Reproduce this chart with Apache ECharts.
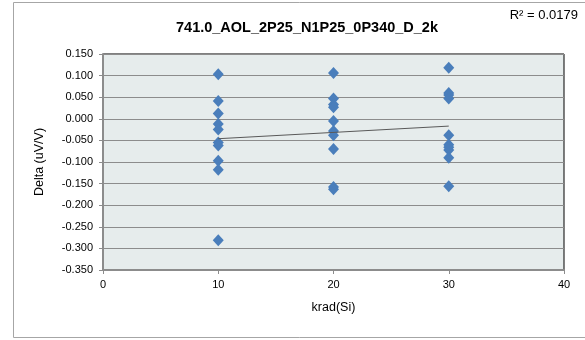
<!DOCTYPE html>
<html><head><meta charset="utf-8">
<script src="https://cdn.jsdelivr.net/npm/echarts@6/dist/echarts.min.js"></script>
<style>html,body{margin:0;padding:0;background:#fff}#c{width:585px;height:340px}</style>
</head><body><div id="c"></div>
<script>
const titleText = '741.0_AOL_2P25_N1P25_0P340_D_2k';
const r2Text = 'R\u00b2 = 0.0179';
const xName = 'krad(Si)';
const yName = 'Delta (uV/V)';
const doseLevels = [10, 20, 30];
const values10 = [0.103, 0.041, 0.012, -0.012, -0.025, -0.055, -0.062, -0.097, -0.118, -0.281];
const values20 = [0.106, 0.047, 0.033, 0.027, -0.005, -0.028, -0.038, -0.070, -0.158, -0.163];
const values30 = [0.118, 0.060, 0.055, 0.047, -0.038, -0.060, -0.066, -0.072, -0.090, -0.156];

const groups = [values10, values20, values30];
const pts = [];
groups.forEach((g, i) => g.forEach(v => pts.push([doseLevels[i], v])));

// linear regression trendline
const n = pts.length;
let sx = 0, sy = 0, sxx = 0, sxy = 0;
pts.forEach(([x, y]) => { sx += x; sy += y; sxx += x * x; sxy += x * y; });
const slope = (n * sxy - sx * sy) / (n * sxx - sx * sx);
const icpt = (sy - slope * sx) / n;
const xmin = Math.min(...doseLevels), xmax = Math.max(...doseLevels);
const trend = [[xmin, icpt + slope * xmin], [xmax, icpt + slope * xmax]];

const chart = echarts.init(document.getElementById('c'), null, {renderer: 'canvas'});
const font = 'Liberation Sans, Arial, sans-serif';
chart.setOption({
  animation: false,
  backgroundColor: '#fff',
  graphic: [
    {type: 'rect', shape: {x: 13.5, y: 2.5, width: 620, height: 335}, style: {fill: 'none', stroke: '#a6a6a6', lineWidth: 1}, z: -10}
  ],
  title: [
    {text: titleText, left: 302, top: 15, textAlign: 'center',
     textStyle: {fontFamily: font, fontSize: 14.5, fontWeight: 'bold', color: '#000'}},
    {text: r2Text, right: 2, top: 4,
     textStyle: {fontFamily: font, fontSize: 13, fontWeight: 'normal', color: '#000'}}
  ],
  grid: {left: 103, right: 21, top: 54, bottom: 70, show: true,
         backgroundColor: '#e6ecec', borderColor: '#000', borderWidth: 1},
  xAxis: {
    type: 'value', min: 0, max: 40, interval: 10,
    name: xName, nameLocation: 'middle', nameGap: 31,
    nameTextStyle: {fontFamily: font, fontSize: 12.5, color: '#000'},
    axisLine: {show: true, onZero: false, lineStyle: {color: '#8c8c8c', width: 2}},
    axisTick: {show: true, length: 4, lineStyle: {color: '#8c8c8c'}},
    axisLabel: {fontFamily: font, fontSize: 11, color: '#000', margin: 9},
    splitLine: {show: false}
  },
  yAxis: {
    type: 'value', min: -0.35, max: 0.15, interval: 0.05,
    name: yName, nameLocation: 'middle', nameGap: 57, nameRotate: 90,
    nameTextStyle: {fontFamily: font, fontSize: 12.5, color: '#000'},
    axisLine: {show: true, onZero: false, lineStyle: {color: '#8c8c8c', width: 2}},
    axisTick: {show: true, length: 4, lineStyle: {color: '#8c8c8c'}},
    axisLabel: {fontFamily: font, fontSize: 11, color: '#000', margin: 10,
                formatter: v => v.toFixed(3)},
    splitLine: {show: true, lineStyle: {color: '#8c8c8c', width: 1}}
  },
  series: [
    {type: 'scatter', data: pts, symbol: 'diamond', symbolSize: [11, 12],
     itemStyle: {color: '#4a7ebb', opacity: 1}, z: 3},
    {type: 'line', data: trend, symbol: 'none', silent: true,
     lineStyle: {color: '#595959', width: 1}, z: 4}
  ]
});
</script></body></html>
